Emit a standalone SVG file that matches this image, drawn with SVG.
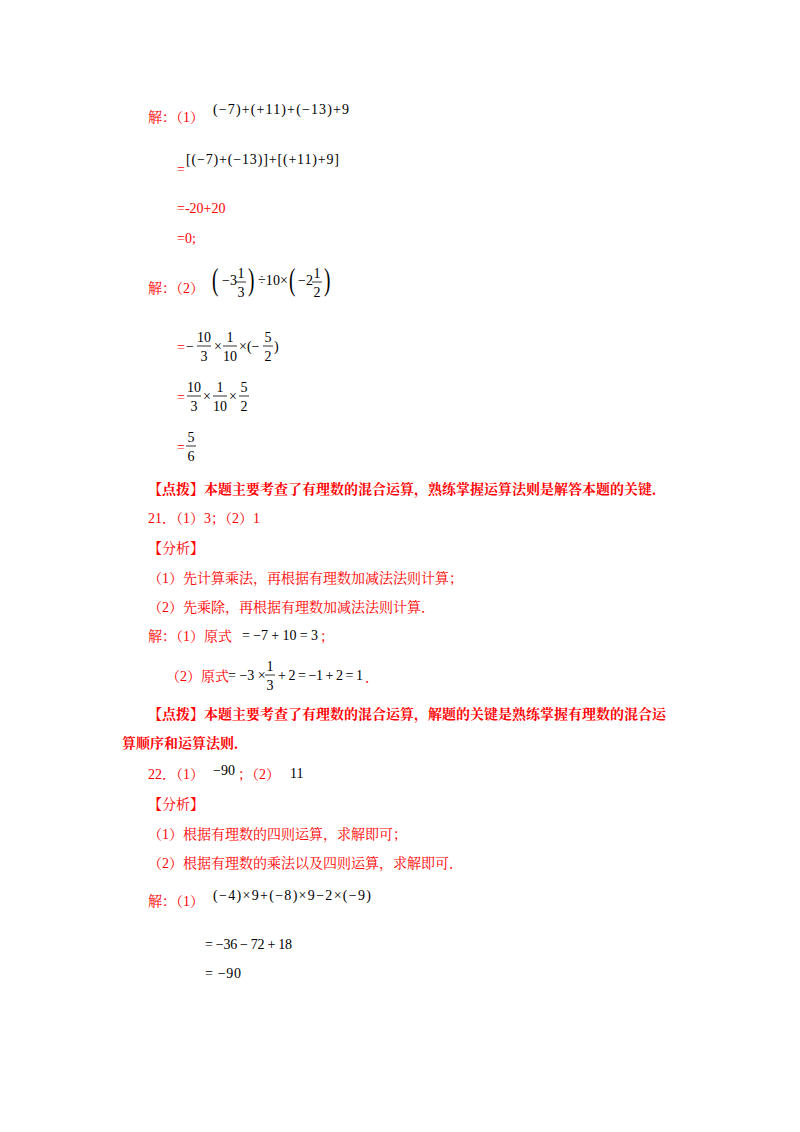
<svg xmlns="http://www.w3.org/2000/svg" width="800" height="1132" viewBox="0 0 800 1132">
<style>
text{font-family:"Liberation Serif","Noto Serif CJK SC","Noto Sans CJK SC",serif;font-size:14px}
.r{fill:#ff0000}
.b{fill:#ff0000;font-weight:bold}
.m{fill:#000}
.f{fill:#000;text-anchor:middle}
line{stroke:#000;stroke-width:0.8}
</style>
<rect width="800" height="1132" fill="#fff"/>
<text class="r" x="148" y="122">解：（1）</text>
<text class="m" x="213" y="114" textLength="136" lengthAdjust="spacing">(−7)+(+11)+(−13)+9</text>
<text class="r" x="177" y="174">=</text>
<text class="m" x="186" y="164" textLength="153" lengthAdjust="spacing">[(−7)+(−13)]+[(+11)+9]</text>
<text class="r" x="177" y="213">=-20+20</text>
<text class="r" x="177" y="243">=0;</text>
<text class="r" x="148" y="293">解：（2）</text>
<text class="m" x="212" y="290" style="font-size:32px" transform="translate(212 290) scale(0.6 1) translate(-212 -290)">(</text>
<text class="m" x="222" y="285">−3</text>
<text class="f" x="241" y="278">1</text><line x1="236" y1="282" x2="246" y2="282"/><text class="f" x="241" y="297">3</text>
<text class="m" x="248" y="290" style="font-size:32px" transform="translate(248 290) scale(0.6 1) translate(-248 -290)">)</text>
<text class="m" x="258" y="285" textLength="30" lengthAdjust="spacing">÷10×</text>
<text class="m" x="289" y="290" style="font-size:32px" transform="translate(289 290) scale(0.6 1) translate(-289 -290)">(</text>
<text class="m" x="298" y="285">−2</text>
<text class="f" x="317" y="278">1</text><line x1="312" y1="282" x2="322" y2="282"/><text class="f" x="317" y="297">2</text>
<text class="m" x="324" y="290" style="font-size:32px" transform="translate(324 290) scale(0.6 1) translate(-324 -290)">)</text>
<text class="r" x="177" y="352">=</text>
<text class="m" x="186" y="351">−</text>
<text class="f" x="204" y="342">10</text><line x1="197" y1="346" x2="211" y2="346"/><text class="f" x="204" y="361">3</text>
<text class="m" x="214" y="351">×</text>
<text class="f" x="230" y="342">1</text><line x1="223" y1="346" x2="237" y2="346"/><text class="f" x="230" y="361">10</text>
<text class="m" x="239" y="351">×(−</text>
<text class="f" x="268" y="342">5</text><line x1="263" y1="346" x2="273" y2="346"/><text class="f" x="268" y="361">2</text>
<text class="m" x="274" y="351">)</text>
<text class="r" x="177" y="402">=</text>
<text class="f" x="194" y="392">10</text><line x1="187" y1="396" x2="201" y2="396"/><text class="f" x="194" y="411">3</text>
<text class="m" x="203" y="401">×</text>
<text class="f" x="220" y="392">1</text><line x1="213" y1="396" x2="227" y2="396"/><text class="f" x="220" y="411">10</text>
<text class="m" x="229" y="401">×</text>
<text class="f" x="244" y="392">5</text><line x1="239" y1="396" x2="249" y2="396"/><text class="f" x="244" y="411">2</text>
<text class="r" x="177" y="452">=</text>
<text class="f" x="191" y="442">5</text><line x1="186" y1="446" x2="196" y2="446"/><text class="f" x="191" y="461">6</text>
<text class="b" x="148" y="494">【点拨】本题主要考查了有理数的混合运算，熟练掌握运算法则是解答本题的关键．</text>
<text class="r" x="148" y="523">21．（1）3；（2）1</text>
<text class="r" x="148" y="553">【分析】</text>
<text class="r" x="148" y="583">（1）先计算乘法，再根据有理数加减法法则计算；</text>
<text class="r" x="148" y="612">（2）先乘除，再根据有理数加减法法则计算．</text>
<text class="r" x="148" y="641">解：（1）原式</text>
<text class="m" x="242" y="640" textLength="76" lengthAdjust="spacing">= −7 + 10 = 3</text>
<text class="r" x="320" y="641">；</text>
<text class="r" x="166" y="681">（2）原式</text>
<text class="m" x="228" y="680">= −3 ×</text>
<text class="f" x="270" y="671">1</text><line x1="265" y1="675" x2="275" y2="675"/><text class="f" x="270" y="690">3</text>
<text class="m" x="278" y="680" textLength="85" lengthAdjust="spacing">+ 2 = −1 + 2 = 1</text>
<text class="r" x="365" y="682">．</text>
<text class="b" x="148" y="719">【点拨】本题主要考查了有理数的混合运算，解题的关键是熟练掌握有理数的混合运</text>
<text class="b" x="122" y="748">算顺序和运算法则．</text>
<text class="r" x="148" y="779">22．（1）</text>
<text class="m" x="213" y="775">−90</text>
<text class="r" x="238" y="779">；（2）</text>
<text class="m" x="290" y="778">11</text>
<text class="r" x="148" y="809">【分析】</text>
<text class="r" x="148" y="839">（1）根据有理数的四则运算，求解即可；</text>
<text class="r" x="148" y="868">（2）根据有理数的乘法以及四则运算，求解即可．</text>
<text class="r" x="148" y="906">解：（1）</text>
<text class="m" x="213" y="900" textLength="158" lengthAdjust="spacing">(−4)×9+(−8)×9−2×(−9)</text>
<text class="m" x="205" y="949" textLength="87" lengthAdjust="spacing">= −36 − 72 + 18</text>
<text class="m" x="205" y="978" textLength="36" lengthAdjust="spacing">= −90</text>
</svg>
